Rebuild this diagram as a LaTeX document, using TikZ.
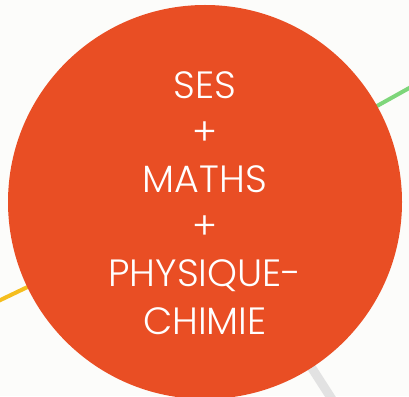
\documentclass[tikz,border=0pt]{standalone}
\usepackage{fontspec}
\IfFontExistsTF{Poppins Light}{\setmainfont{Poppins Light}}{\setmainfont{Poppins}}
\definecolor{bg}{RGB}{252,252,250}
\definecolor{disc}{RGB}{233,78,36}
\definecolor{lgreen}{RGB}{126,214,122}
\definecolor{lyellow}{RGB}{245,190,30}
\definecolor{lgrey}{RGB}{226,226,226}
\tikzset{
  spoke/.style={line width=#1, line cap=butt},
  lbl/.style={text=white, font=\fontsize{38}{47}\selectfont, anchor=base, inner sep=0pt}
}
\begin{document}
\begin{tikzpicture}[x=1pt,y=1pt]
  \useasboundingbox (0,0) rectangle (409,396);
  \fill[bg] (0,0) rectangle (409,396);
  \clip (0,0) rectangle (409,396);
  \coordinate (c) at (205,194);
  \coordinate (g) at (420,314);
  \coordinate (y) at (-10,91);
  \coordinate (r) at (335,-8);
  \draw[spoke=4pt, lgreen] (c) -- (g);
  \draw[spoke=4pt, lyellow] (c) -- (y);
  \draw[spoke=9pt, lgrey] (c) -- (r);
  \node[circle, fill=disc, minimum size=394pt, inner sep=0pt] (d) at (c) {};
  \node[lbl] (t1) at (205,297) {SES};
  \node[lbl] (t2) at (205,250) {+};
  \node[lbl] (t3) at (205,203) {MATHS};
  \node[lbl] (t4) at (205,156) {+};
  \node[lbl] (t5) at (205,109) {PHYSIQUE-};
  \node[lbl] (t6) at (205,62) {CHIMIE};
\end{tikzpicture}
\end{document}
